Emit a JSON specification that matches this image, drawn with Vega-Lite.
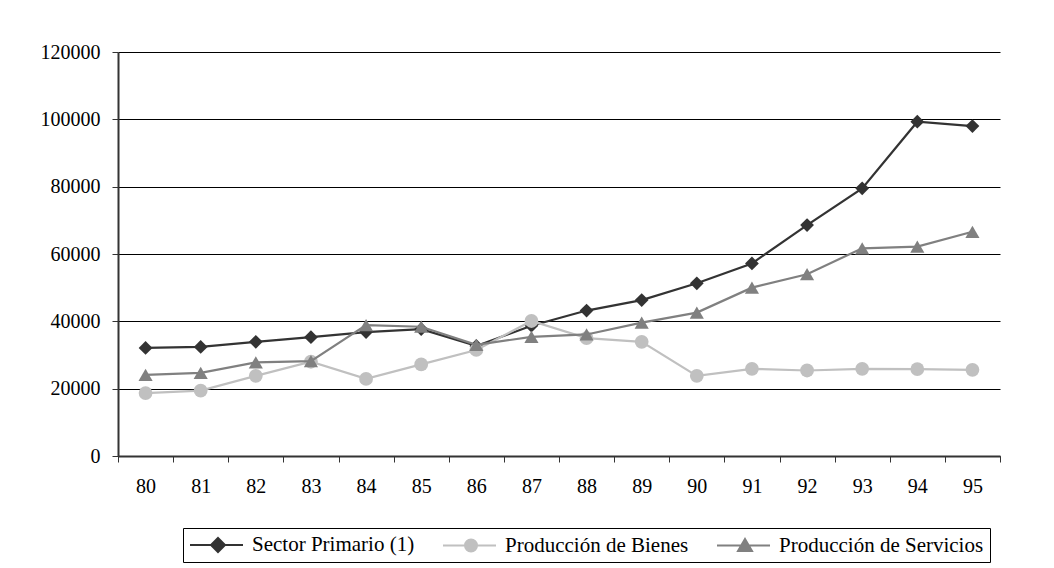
{
  "$schema": "https://vega.github.io/schema/vega-lite/v6.json",
  "autosize": {"type": "none"},
  "width": 882,
  "height": 404,
  "padding": {"left": 118, "top": 52, "right": 54, "bottom": 112},
  "background": "white",
  "config": {
    "view": {"stroke": null},
    "font": "Liberation Serif"
  },
  "data": {
    "values": [
      {"year": "80", "serie": "Sector Primario (1)", "value": 32100},
      {"year": "81", "serie": "Sector Primario (1)", "value": 32400},
      {"year": "82", "serie": "Sector Primario (1)", "value": 33900},
      {"year": "83", "serie": "Sector Primario (1)", "value": 35300},
      {"year": "84", "serie": "Sector Primario (1)", "value": 36800},
      {"year": "85", "serie": "Sector Primario (1)", "value": 37700},
      {"year": "86", "serie": "Sector Primario (1)", "value": 32700},
      {"year": "87", "serie": "Sector Primario (1)", "value": 38700},
      {"year": "88", "serie": "Sector Primario (1)", "value": 43200},
      {"year": "89", "serie": "Sector Primario (1)", "value": 46300},
      {"year": "90", "serie": "Sector Primario (1)", "value": 51300},
      {"year": "91", "serie": "Sector Primario (1)", "value": 57200},
      {"year": "92", "serie": "Sector Primario (1)", "value": 68600},
      {"year": "93", "serie": "Sector Primario (1)", "value": 79500},
      {"year": "94", "serie": "Sector Primario (1)", "value": 99300},
      {"year": "95", "serie": "Sector Primario (1)", "value": 98000},
      {"year": "80", "serie": "Producción de Bienes", "value": 18700},
      {"year": "81", "serie": "Producción de Bienes", "value": 19400},
      {"year": "82", "serie": "Producción de Bienes", "value": 23800},
      {"year": "83", "serie": "Producción de Bienes", "value": 28000},
      {"year": "84", "serie": "Producción de Bienes", "value": 22900},
      {"year": "85", "serie": "Producción de Bienes", "value": 27200},
      {"year": "86", "serie": "Producción de Bienes", "value": 31500},
      {"year": "87", "serie": "Producción de Bienes", "value": 40100},
      {"year": "88", "serie": "Producción de Bienes", "value": 35000},
      {"year": "89", "serie": "Producción de Bienes", "value": 33900},
      {"year": "90", "serie": "Producción de Bienes", "value": 23800},
      {"year": "91", "serie": "Producción de Bienes", "value": 25900},
      {"year": "92", "serie": "Producción de Bienes", "value": 25400},
      {"year": "93", "serie": "Producción de Bienes", "value": 25900},
      {"year": "94", "serie": "Producción de Bienes", "value": 25800},
      {"year": "95", "serie": "Producción de Bienes", "value": 25600},
      {"year": "80", "serie": "Producción de Servicios", "value": 24100},
      {"year": "81", "serie": "Producción de Servicios", "value": 24700},
      {"year": "82", "serie": "Producción de Servicios", "value": 27800},
      {"year": "83", "serie": "Producción de Servicios", "value": 28200},
      {"year": "84", "serie": "Producción de Servicios", "value": 38900},
      {"year": "85", "serie": "Producción de Servicios", "value": 38400},
      {"year": "86", "serie": "Producción de Servicios", "value": 33000},
      {"year": "87", "serie": "Producción de Servicios", "value": 35400},
      {"year": "88", "serie": "Producción de Servicios", "value": 36100},
      {"year": "89", "serie": "Producción de Servicios", "value": 39600},
      {"year": "90", "serie": "Producción de Servicios", "value": 42600},
      {"year": "91", "serie": "Producción de Servicios", "value": 50000},
      {"year": "92", "serie": "Producción de Servicios", "value": 54000},
      {"year": "93", "serie": "Producción de Servicios", "value": 61700},
      {"year": "94", "serie": "Producción de Servicios", "value": 62200},
      {"year": "95", "serie": "Producción de Servicios", "value": 66600}
    ]
  },
  "encoding": {
    "x": {
      "field": "year", "type": "ordinal",
      "scale": {"type": "band", "paddingInner": 0, "paddingOuter": 0},
      "axis": {"title": null, "labelAngle": 0, "tickBand": "extent", "labelPadding": 14, "grid": false,
        "labelFont": "Liberation Serif", "labelFontSize": 20, "labelColor": "black",
        "domainColor": "#333333", "domainWidth": 2, "tickColor": "#333333", "tickSize": 6, "tickWidth": 1}
    },
    "y": {
      "field": "value", "type": "quantitative",
      "scale": {"domain": [0, 120000], "nice": false},
      "axis": {"title": null, "values": [0, 20000, 40000, 60000, 80000, 100000, 120000], "format": "d",
        "grid": true, "gridColor": "#000000", "gridWidth": 1, "labelPadding": 12,
        "labelFont": "Liberation Serif", "labelFontSize": 20, "labelColor": "black",
        "domainColor": "#333333", "domainWidth": 2, "tickColor": "#333333", "tickSize": 6, "tickWidth": 1}
    }
  },
  "layer": [
    {
      "transform": [{"filter": "datum.serie == 'Sector Primario (1)'"}],
      "mark": {"type": "line", "strokeWidth": 2.2, "color": "#333333",
        "point": {"filled": true, "opacity": 1, "size": 190, "shape": "diamond", "color": "#333333"}}
    },
    {
      "transform": [{"filter": "datum.serie == 'Producción de Bienes'"}],
      "mark": {"type": "line", "strokeWidth": 2.2, "color": "#c0c0c0",
        "point": {"filled": true, "opacity": 1, "size": 190, "shape": "circle", "color": "#c0c0c0"}}
    },
    {
      "transform": [{"filter": "datum.serie == 'Producción de Servicios'"}],
      "mark": {"type": "line", "strokeWidth": 2.2, "color": "#808080",
        "point": {"filled": true, "opacity": 1, "size": 200, "shape": "triangle-up", "color": "#808080"}}
    },
    {
      "transform": [{"filter": "datum.year == '80'"}],
      "mark": {"type": "point", "filled": true, "opacity": 0, "size": 1},
      "encoding": {
        "color": {
          "field": "serie", "type": "nominal",
          "scale": {"domain": ["Sector Primario (1)", "Producción de Bienes", "Producción de Servicios"], "range": ["#333333", "#c0c0c0", "#808080"]},
          "legend": {
            "title": null, "orient": "none", "direction": "horizontal",
            "legendX": 65, "legendY": 476,
            "symbolSize": 400, "symbolStrokeWidth": 2, "symbolOpacity": 1,
            "labelFont": "Liberation Serif", "labelFontSize": 21, "labelColor": "black",
            "labelLimit": 400, "columnPadding": 24, "labelOffset": 41,
            "strokeColor": "black", "padding": 6, "fillColor": "white",
            "encode": {"symbols": {"update": {
              "fill": {"signal": "datum.value == 'Sector Primario (1)' ? '#333333' : datum.value == 'Producción de Bienes' ? '#c0c0c0' : '#808080'"},
              "stroke": {"signal": "datum.value == 'Sector Primario (1)' ? '#333333' : datum.value == 'Producción de Bienes' ? '#c0c0c0' : '#808080'"},
              "shape": {"signal": "datum.value == 'Sector Primario (1)' ? 'M-1,0H4.3M1.8,-0.7L2.5,0L1.8,0.7L1.1,0Z' : datum.value == 'Producción de Bienes' ? 'M-1,0H4.3M1.2,0A0.6,0.6 0 1,1 2.4,0A0.6,0.6 0 1,1 1.2,0Z' : 'M-1,0H4.3M1.8,-0.65L2.5,0.55L1.1,0.55Z'"},
              "size": {"value": 400},
              "strokeWidth": {"value": 2},
              "opacity": {"value": 1}
            }}}
          }
        }
      }
    }
  ]
}
